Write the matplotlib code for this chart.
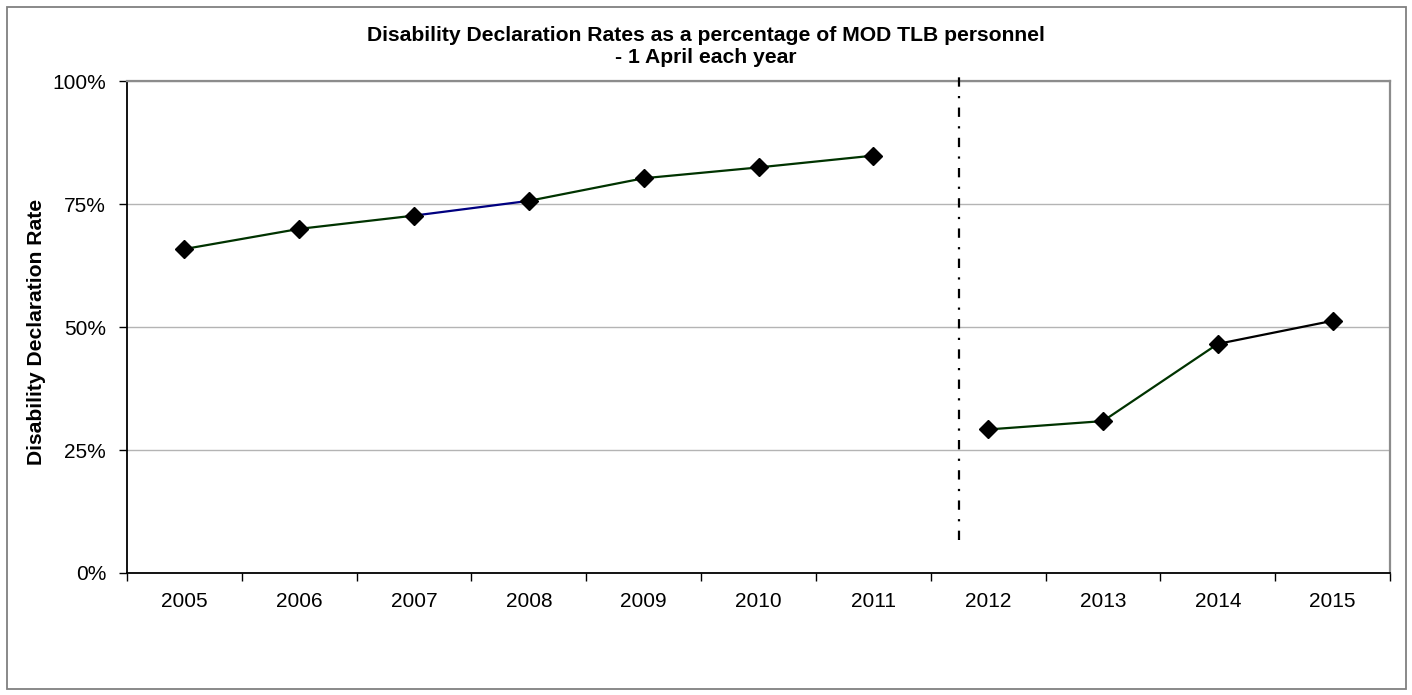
import numpy as np
import matplotlib
matplotlib.use("Agg")
import matplotlib.pyplot as plt
from matplotlib.patches import Rectangle
from matplotlib.ticker import FixedLocator, PercentFormatter

# ------------------------------------------------------------------
# Data: declaration rate (%) at 1 April of each year
# ------------------------------------------------------------------
years = ['2005', '2006', '2007', '2008', '2009', '2010', '2011',
         '2012', '2013', '2014', '2015']
rates_old = [65.9, 70.0, 72.7, 75.7, 80.3, 82.5, 84.9]   # 2005-2011
rates_new = [29.2, 30.9, 46.6, 51.3]                       # 2012-2015

# per-segment line colours (one entry per join between consecutive points)
seg_colors_old = ['#003300', '#003300', '#000080', '#003300', '#003300', '#003300']
seg_colors_new = ['#003300', '#003300', '#000000']

# break between the two series (category units) and its vertical extent (%)
split_x = 6.75
split_y = (6.8, 100.8)

plt.rcParams['font.family'] = ['Liberation Sans', 'DejaVu Sans']

W, H = 1412, 695
fig = plt.figure(figsize=(W / 100, H / 100), dpi=100)
fig.patch.set_facecolor('white')

# outer chart border
fig.patches.append(Rectangle((7 / W, 6 / H), 1399 / W, 682 / H,
                             transform=fig.transFigure, fill=False,
                             edgecolor='#808080', lw=1.3))

left, right, top, bottom = 127, 1390, 81.4, 573
ax = fig.add_axes([left / W, 1 - bottom / H, (right - left) / W, (bottom - top) / H])

x_old = np.arange(len(rates_old))
x_new = np.arange(len(rates_old), len(rates_old) + len(rates_new))


def draw_series(x, y, colors):
    for i, c in enumerate(colors):
        ax.plot(x[i:i + 2], y[i:i + 2], color=c, lw=1.6, zorder=3,
                solid_capstyle='butt')
    ax.plot(x, y, ls='none', marker='D', ms=9.6, mfc='black', mec='black',
            zorder=4)


draw_series(x_old, rates_old, seg_colors_old)
draw_series(x_new, rates_new, seg_colors_new)

# dash-dot separator between the old and new measures
ax.plot([split_x, split_x], split_y, color='black', lw=1.6,
        ls=(0, (4.2, 4.2, 1, 4.2)), dash_capstyle='butt', clip_on=False,
        zorder=5)

ax.set_xlim(-0.5, len(years) - 0.5)
ax.set_ylim(0, 100)

ax.set_xticks(np.arange(len(years)))
ax.set_xticklabels(years)
ax.xaxis.set_minor_locator(FixedLocator(np.arange(-0.5, len(years), 1.0)))
ax.tick_params(axis='x', which='major', length=0, pad=14, labelsize=15,
               colors='black')
ax.tick_params(axis='x', which='minor', length=6, width=1.0, color='black',
               direction='out')

ax.set_yticks([0, 25, 50, 75, 100])
ax.yaxis.set_major_formatter(PercentFormatter(decimals=0))
ax.tick_params(axis='y', length=6, width=1.0, pad=9, labelsize=15,
               direction='out', colors='black')

ax.grid(axis='y', color='#b4b4b4', lw=1.0, zorder=0)
ax.set_axisbelow(True)

for side in ('left', 'bottom'):
    ax.spines[side].set_color('black')
    ax.spines[side].set_linewidth(1.3)
for side in ('top', 'right'):
    ax.spines[side].set_color('#8c8c8c')
    ax.spines[side].set_linewidth(1.6)

# axis title placed close to the outer border
fig.text(37 / W, 1 - 332 / H, 'Disability Declaration Rate', rotation=90,
         ha='center', va='center', fontsize=15.2, fontweight='bold')

fig.text(0.5, 1 - 26 / H,
         'Disability Declaration Rates as a percentage of MOD TLB personnel\n- 1 April each year',
         ha='center', va='top', fontsize=15.2, fontweight='bold',
         linespacing=1.2)

fig.savefig('out.png', dpi=100, facecolor='white')
